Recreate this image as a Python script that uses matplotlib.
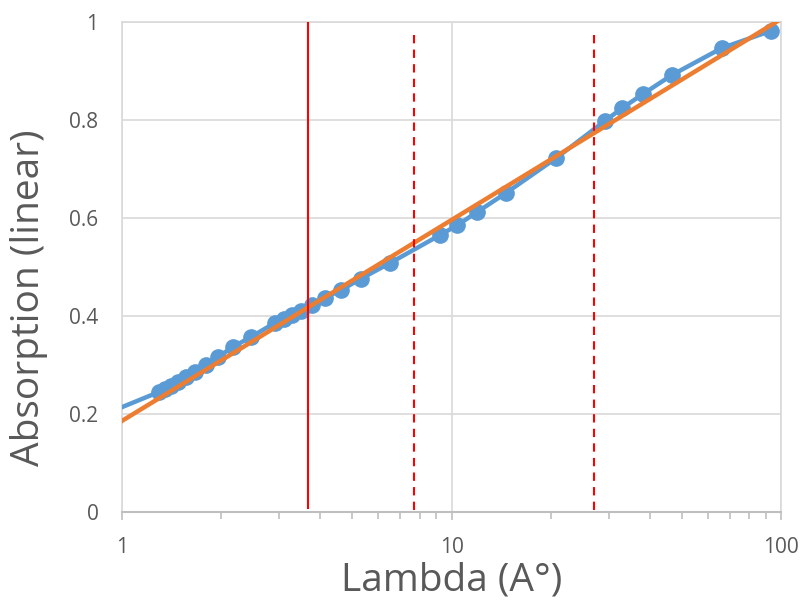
import matplotlib
matplotlib.use("Agg")
import matplotlib.pyplot as plt
import numpy as np

# Data
lam = [1.0, 1.295, 1.35, 1.408, 1.479, 1.564, 1.666, 1.80, 1.955, 2.17, 2.46,
       2.91, 3.10, 3.28, 3.49, 3.77, 4.13, 4.62, 5.31, 6.50, 9.22, 10.39,
       11.95, 14.63, 20.75, 29.2, 32.9, 38.1, 46.7, 66.2, 93.3]
absorb = [0.214, 0.245, 0.251, 0.257, 0.265, 0.276, 0.286, 0.300, 0.316, 0.337, 0.357,
          0.386, 0.394, 0.402, 0.410, 0.422, 0.437, 0.453, 0.476, 0.508, 0.565, 0.585,
          0.612, 0.651, 0.722, 0.798, 0.824, 0.853, 0.892, 0.947, 0.982]
fit_intercept = 0.186
fit_slope = 0.41
fit_x = [1.0, 100.0]
vline_solid = [3.67]
vline_dashed = [7.67, 27.1]

plt.rcParams['font.family'] = ['Open Sans', 'DejaVu Sans']

fig = plt.figure(figsize=(8.06, 6.0), dpi=100)
ax = fig.add_axes([0.1514, 0.1467, 0.8176, 0.8166])

ax.set_xscale('log')
ax.set_xlim(1, 100)
ax.set_ylim(0, 1)

grid_c = '#d9d9d9'
ax.grid(True, which='major', color=grid_c, linewidth=1.2, zorder=0)
ax.set_axisbelow(True)
for s in ['top', 'right', 'left']:
    ax.spines[s].set_color(grid_c)
    ax.spines[s].set_linewidth(1.2)
ax.spines['bottom'].set_color('#bfbfbf')
ax.spines['bottom'].set_linewidth(1.5)

fx = np.array(fit_x)
fy = fit_intercept + fit_slope * np.log10(fx)

ax.plot(lam, absorb, color='#5b9bd5', linewidth=3.2, marker='o', markersize=11,
        markevery=list(range(1, len(lam))), zorder=3, clip_on=True)
ax.plot(fx, fy, color='#ed7d31', linewidth=3.2, zorder=4)

for v in vline_solid:
    ax.axvline(v, ymin=0.008, ymax=1.0, color='#ff0000', linewidth=1.5, zorder=5)
for v in vline_dashed:
    ax.axvline(v, ymin=0.004, ymax=0.985, color='#ff0000', linewidth=1.5,
               linestyle=(0, (4, 3)), zorder=5)

ax.set_yticks([0, 0.2, 0.4, 0.6, 0.8, 1.0])
ax.set_yticklabels(['0', '0.2', '0.4', '0.6', '0.8', '1'])
ax.set_xticks([1, 10, 100])
ax.set_xticklabels(['1', '10', '100'])

ax.tick_params(axis='y', which='both', length=0, labelsize=15, colors='#595959', pad=17)
ax.tick_params(axis='x', which='major', length=6, width=1.2, color='#bfbfbf',
               labelsize=15, labelcolor='#595959', pad=12, direction='out')
ax.tick_params(axis='x', which='minor', length=5, width=1.2, color='#bfbfbf',
               direction='out')
ax.xaxis.set_minor_formatter(matplotlib.ticker.NullFormatter())

ax.set_xlabel('Lambda (A°)', fontsize=28, color='#595959')
ax.set_ylabel('Absorption (linear)', fontsize=28, color='#595959')
ax.xaxis.set_label_coords(0.5, -0.102)
ax.yaxis.set_label_coords(-0.112, 0.437)

fig.savefig('out.png', dpi=100)
